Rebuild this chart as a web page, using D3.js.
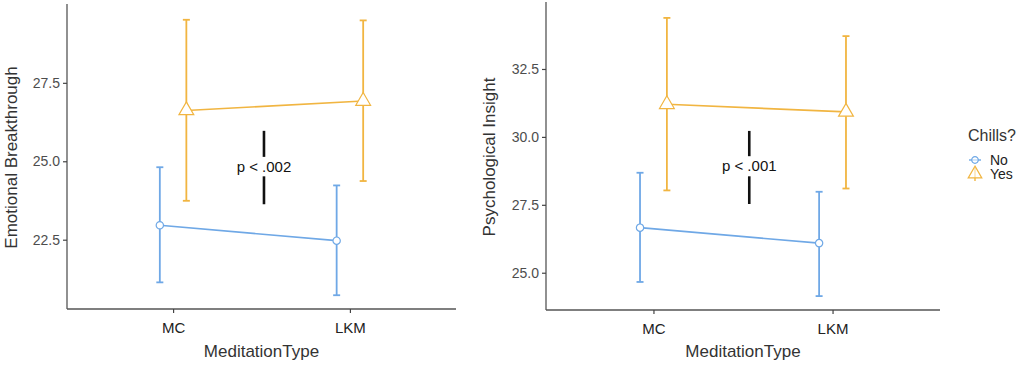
<!DOCTYPE html>
<html>
<head>
<meta charset="utf-8">
<script src="https://cdn.jsdelivr.net/npm/d3@7"></script>
<style>
  body { margin: 0; background: #fff; }
  svg { font-family: "Liberation Sans", Arial, sans-serif; }
</style>
</head>
<body>
<svg id="svg" width="1024" height="367"></svg>
<script>
// data
const types = ["MC", "LKM"];
const groups = ["No", "Yes"];

const emoMean = { No: [22.96, 22.47], Yes: [26.62, 26.92] };
const emoLow  = { No: [21.14, 20.73], Yes: [23.74, 24.37] };
const emoHigh = { No: [24.81, 24.23], Yes: [29.51, 29.49] };

const insMean = { No: [26.66, 26.09], Yes: [31.20, 30.92] };
const insLow  = { No: [24.66, 24.14], Yes: [28.03, 28.10] };
const insHigh = { No: [28.68, 27.98], Yes: [34.38, 33.71] };

const emoTicks = [22.5, 25.0, 27.5];
const insTicks = [25.0, 27.5, 30.0, 32.5];

const pLabels = ["p < .002", "p < .001"];

let colors = { No: "#6fa8e6", Yes: "#f1b541" };
let svg = d3.select("#svg");

// one panel of the interaction plot
function panel(opts) {
    let { left, right, top, bottom, mean, low, high, ticks, yTitle, titleX, pLabel, pPos } = opts;
    let g = svg.append("g");

    let allVals = groups.flatMap(k => low[k].concat(high[k]));
    let [mn, mx] = d3.extent(allVals);
    let pad = (mx - mn) * 0.05;
    let yScale = d3.scaleLinear().domain([mn - pad, mx + pad]).range([bottom, top]);
    let xScale = d3.scalePoint().domain(types).range([left, right]).padding(0.6);
    let dodge = xScale.step() * 0.075;
    let off = { No: -dodge, Yes: dodge };
    let px = (k, t) => xScale(t) + off[k];

    // axes
    let yAxis = g.append("g").attr("transform", `translate(${left},0)`)
        .call(d3.axisLeft(yScale).tickValues(ticks).tickFormat(d3.format(".1f")).tickSizeOuter(0).tickSize(4));
    let xAxis = g.append("g").attr("transform", `translate(0,${bottom})`)
        .call(d3.axisBottom(xScale).tickSizeOuter(0).tickSize(4));
    [xAxis, yAxis].forEach(a => {
        a.select(".domain").attr("stroke", "#555").attr("stroke-width", 1.3);
        a.selectAll(".tick line").attr("stroke", "#444").attr("stroke-width", 1.2);
    });
    yAxis.select(".domain").attr("d", `M0,${top - 2}V${bottom}`);
    xAxis.select(".domain").attr("d", `M${left},0H${right}`);
    yAxis.selectAll(".tick text").attr("font-size", 14).attr("fill", "#4d4d4d").attr("x", -7);
    xAxis.selectAll(".tick text").attr("font-size", 15).attr("fill", "#222").attr("y", 13);

    g.append("text").attr("x", (left + right) / 2).attr("y", 357)
        .attr("text-anchor", "middle").attr("font-size", 17).attr("fill", "#333")
        .text("MeditationType");
    g.append("text").attr("transform", `translate(${titleX},${(top + bottom) / 2}) rotate(-90)`)
        .attr("text-anchor", "middle").attr("font-size", 17).attr("fill", "#333")
        .text(yTitle);

    groups.forEach(k => {
        let c = colors[k];
        let pts = types.map((t, i) => ({ t, m: mean[k][i], lo: low[k][i], hi: high[k][i] }));

        g.append("path").datum(pts)
            .attr("fill", "none").attr("stroke", c).attr("stroke-width", 1.6)
            .attr("d", d3.line().x(d => px(k, d.t)).y(d => yScale(d.m)));

        let eb = g.append("g").selectAll("g").data(pts).join("g")
            .attr("stroke", c).attr("stroke-width", 1.8);
        eb.append("line").attr("x1", d => px(k, d.t)).attr("x2", d => px(k, d.t))
            .attr("y1", d => yScale(d.lo)).attr("y2", d => yScale(d.hi));
        eb.append("line").attr("x1", d => px(k, d.t) - 3.5).attr("x2", d => px(k, d.t) + 3.5)
            .attr("y1", d => yScale(d.lo)).attr("y2", d => yScale(d.lo));
        eb.append("line").attr("x1", d => px(k, d.t) - 3.5).attr("x2", d => px(k, d.t) + 3.5)
            .attr("y1", d => yScale(d.hi)).attr("y2", d => yScale(d.hi));

        let sym = k === "No" ? d3.symbolCircle : d3.symbolTriangle;
        let size = k === "No" ? 42 : 95;
        g.append("g").selectAll("path").data(pts).join("path")
            .attr("transform", d => `translate(${px(k, d.t)},${yScale(d.m)})`)
            .attr("d", d3.symbol().type(sym).size(size))
            .attr("fill", "#fff").attr("stroke", c).attr("stroke-width", 1.2);
    });

    // significance mark
    let ax = xScale("MC") + (xScale("LKM") - xScale("MC")) * pPos.x;
    g.append("line").attr("x1", ax).attr("x2", ax)
        .attr("y1", yScale(pPos.a[0])).attr("y2", yScale(pPos.a[1]))
        .attr("stroke", "#111").attr("stroke-width", 2.6);
    g.append("line").attr("x1", ax).attr("x2", ax)
        .attr("y1", yScale(pPos.b[0])).attr("y2", yScale(pPos.b[1]))
        .attr("stroke", "#111").attr("stroke-width", 2.6);
    g.append("text").attr("x", ax).attr("y", yScale(pPos.t))
        .attr("dy", "0.35em").attr("text-anchor", "middle")
        .attr("font-size", 15).attr("fill", "#111").text(pLabel);
}

panel({ left: 67, right: 456, top: 6, bottom: 309,
        mean: emoMean, low: emoLow, high: emoHigh, ticks: emoTicks,
        yTitle: "Emotional Breakthrough", titleX: 17, pLabel: pLabels[0],
        pPos: { x: 0.514, a: [25.97, 25.14], b: [24.52, 23.63], t: 24.82 } });

panel({ left: 546, right: 940, top: 4, bottom: 310,
        mean: insMean, low: insLow, high: insHigh, ticks: insTicks,
        yTitle: "Psychological Insight", titleX: 495, pLabel: pLabels[1],
        pPos: { x: 0.535, a: [30.22, 29.29], b: [28.55, 27.53], t: 28.93 } });

// legend
let legend = svg.append("g");
legend.append("text").attr("x", 968).attr("y", 141).attr("font-size", 16).attr("fill", "#333").text("Chills?");
let keys = legend.selectAll("g.key").data(groups).join("g")
    .attr("transform", (d, i) => `translate(975,${160 + i * 14})`);
keys.filter(d => d === "No").append("line")
    .attr("x1", -6).attr("x2", 6).attr("stroke", colors.No).attr("stroke-width", 1.4);
keys.filter(d => d === "Yes").append("line")
    .attr("y1", -6).attr("y2", 7).attr("stroke", colors.Yes).attr("stroke-width", 1.4);
keys.append("path")
    .attr("d", d => d3.symbol().type(d === "No" ? d3.symbolCircle : d3.symbolTriangle).size(d === "No" ? 34 : 80)())
    .attr("fill", "#fff").attr("fill-opacity", 0.6).attr("stroke", d => colors[d]).attr("stroke-width", 1.2);
keys.append("text").attr("x", 15).attr("dy", "0.35em").attr("font-size", 14).attr("fill", "#222").text(d => d);
</script>
</body>
</html>
